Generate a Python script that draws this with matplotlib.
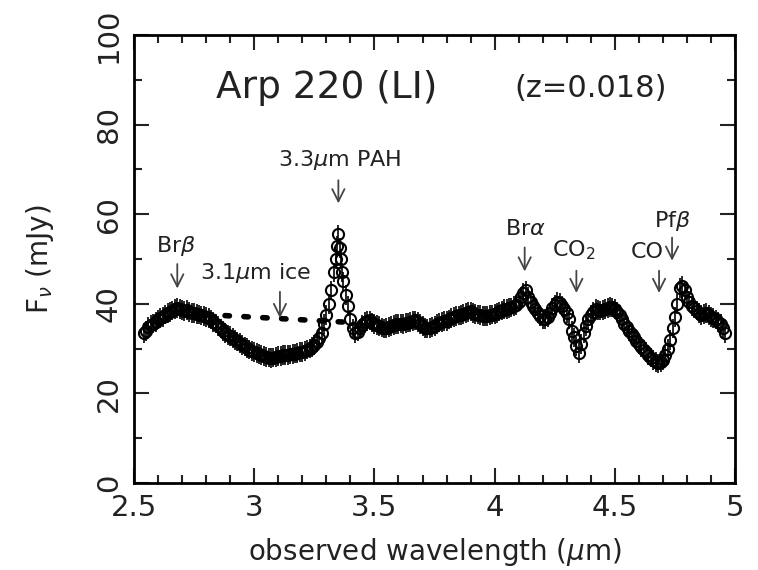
import matplotlib.pyplot as plt

# observed spectrum
wave = [2.54, 2.55, 2.56, 2.57, 2.58, 2.59, 2.60, 2.61, 2.62, 2.63, 2.64, 2.65, 2.66, 2.67,
        2.68, 2.69, 2.70, 2.71, 2.72, 2.73, 2.74, 2.75, 2.76, 2.77, 2.78, 2.79, 2.80, 2.81,
        2.82, 2.83, 2.84, 2.85, 2.86, 2.87, 2.88, 2.89, 2.90, 2.91, 2.92, 2.93, 2.94, 2.95,
        2.96, 2.97, 2.98, 2.99, 3.00, 3.01, 3.02, 3.03, 3.04, 3.05, 3.06, 3.07, 3.08, 3.09,
        3.10, 3.11, 3.12, 3.13, 3.14, 3.15, 3.16, 3.17, 3.18, 3.19, 3.20, 3.21, 3.22, 3.23,
        3.24, 3.25, 3.26, 3.27, 3.28, 3.29, 3.30, 3.31, 3.32, 3.33, 3.34, 3.345, 3.35, 3.355,
        3.36, 3.365, 3.37, 3.38, 3.39, 3.40, 3.41, 3.42, 3.43, 3.44, 3.45, 3.46, 3.47, 3.48,
        3.49, 3.50, 3.51, 3.52, 3.53, 3.54, 3.55, 3.56, 3.57, 3.58, 3.59, 3.60, 3.61, 3.62,
        3.63, 3.64, 3.65, 3.66, 3.67, 3.68, 3.69, 3.70, 3.71, 3.72, 3.73, 3.74, 3.75, 3.76,
        3.77, 3.78, 3.79, 3.80, 3.81, 3.82, 3.83, 3.84, 3.85, 3.86, 3.87, 3.88, 3.89, 3.90,
        3.91, 3.92, 3.93, 3.94, 3.95, 3.96, 3.97, 3.98, 3.99, 4.00, 4.01, 4.02, 4.03, 4.04,
        4.05, 4.06, 4.07, 4.08, 4.09, 4.10, 4.11, 4.12, 4.13, 4.14, 4.15, 4.16, 4.17, 4.18,
        4.19, 4.20, 4.21, 4.22, 4.23, 4.24, 4.25, 4.26, 4.27, 4.28, 4.29, 4.30, 4.31, 4.32,
        4.33, 4.34, 4.35, 4.36, 4.37, 4.38, 4.39, 4.40, 4.41, 4.42, 4.43, 4.44, 4.45, 4.46,
        4.47, 4.48, 4.49, 4.50, 4.51, 4.52, 4.53, 4.54, 4.55, 4.56, 4.57, 4.58, 4.59, 4.60,
        4.61, 4.62, 4.63, 4.64, 4.65, 4.66, 4.67, 4.68, 4.69, 4.70, 4.71, 4.72, 4.73, 4.74,
        4.75, 4.76, 4.77, 4.78, 4.79, 4.80, 4.81, 4.82, 4.83, 4.84, 4.85, 4.86, 4.87, 4.88,
        4.89, 4.90, 4.91, 4.92, 4.93, 4.94, 4.95, 4.96]
flux = [33.5, 34.0, 34.8, 35.2, 35.6, 36.0, 36.5, 36.8, 37.0, 37.6, 38.0, 38.2, 38.5, 38.9,
        39.1, 38.8, 38.6, 38.4, 38.6, 38.2, 38.0, 37.9, 37.8, 37.6, 37.4, 37.2, 37.0, 36.8,
        36.5, 36.0, 35.6, 35.0, 34.5, 34.0, 33.5, 33.1, 32.8, 32.3, 32.0, 31.6, 31.2, 30.8,
        30.5, 30.1, 29.8, 29.5, 29.2, 29.0, 28.8, 28.5, 28.3, 28.1, 28.0, 27.9, 28.0, 28.2,
        28.3, 28.4, 28.5, 28.5, 28.6, 28.7, 28.8, 28.9, 29.0, 29.2, 29.3, 29.5, 29.8, 30.0,
        30.3, 30.8, 31.5, 32.4, 33.5, 35.5, 37.5, 40.0, 43.0, 47.0, 50.0, 53.0, 55.5, 52.5,
        50.0, 47.0, 45.0, 42.0, 39.5, 36.5, 34.5, 33.5, 33.8, 34.5, 35.3, 36.0, 36.2, 36.3,
        35.8, 35.5, 35.2, 35.0, 34.7, 34.5, 34.6, 34.8, 35.0, 35.3, 35.5, 35.5, 35.6, 35.5,
        35.7, 35.8, 36.0, 36.2, 36.3, 36.0, 35.5, 35.0, 34.6, 34.5, 34.6, 34.8, 35.1, 35.5,
        35.8, 36.0, 36.1, 36.2, 36.5, 36.8, 37.0, 37.2, 37.4, 37.5, 37.8, 38.0, 38.2, 38.3,
        38.0, 37.8, 37.6, 37.5, 37.3, 37.2, 37.3, 37.5, 37.6, 37.8, 38.0, 38.3, 38.5, 38.8,
        38.9, 39.0, 39.2, 39.5, 39.8, 40.5, 41.5, 42.5, 43.0, 41.5, 40.5, 39.5, 38.8, 38.0,
        37.2, 36.5, 36.6, 37.0, 38.0, 39.0, 39.8, 40.5, 40.2, 39.5, 38.8, 38.0, 36.5, 34.0,
        32.5, 30.5, 29.0, 31.0, 33.5, 35.0, 36.5, 37.5, 38.2, 38.8, 38.6, 38.5, 38.6, 38.8,
        39.0, 39.3, 39.2, 38.8, 38.2, 37.5, 36.5, 35.5, 34.8, 34.0, 33.2, 32.5, 31.8, 31.0,
        30.4, 29.8, 29.2, 28.5, 28.0, 27.5, 27.0, 26.7, 27.0, 27.5, 28.5, 30.0, 32.0, 34.5,
        37.0, 40.0, 43.5, 44.0, 43.0, 41.5, 40.5, 39.5, 39.0, 38.5, 38.0, 37.5, 37.8, 38.0,
        37.5, 37.0, 36.8, 36.5, 36.0, 35.5, 34.5, 33.5]
flux_err = 2.2

# continuum under the 3.1 um ice feature
cont_wave = [2.80, 3.38]
cont_flux = [37.6, 35.9]

# feature labels: text, text x, text y, arrow x, arrow top, arrow tip
features = [
    ("Br$\\beta$", 2.675, 52.8, 2.68, 49.5, 42.8),
    ("3.1$\\mu$m ice", 3.005, 46.8, 3.107, 43.3, 36.2),
    ("3.3$\\mu$m PAH", 3.355, 72.0, 3.35, 68.2, 61.8),
    ("Br$\\alpha$", 4.127, 56.6, 4.125, 53.2, 46.6),
    ("CO$_2$", 4.33, 52.0, 4.34, 48.0, 41.8),
    ("CO", 4.634, 51.6, 4.684, 48.0, 41.8),
    ("Pf$\\beta$", 4.74, 58.5, 4.738, 55.4, 49.0),
]

fig = plt.figure(figsize=(7.58, 5.70), dpi=100)
ax = fig.add_axes([0.1768, 0.1526, 0.7929, 0.786])

ax.errorbar(wave, flux, yerr=flux_err, fmt='o', ms=8, mfc='none', mec='black',
            mew=1.5, ecolor='black', elinewidth=1.2, capsize=0, color='black', zorder=3)
ax.plot(cont_wave, cont_flux, color='black', lw=4, linestyle=(0, (0.8, 2.6)),
        dash_capstyle='round', zorder=2)

for label, tx, ty, axx, a_top, a_tip in features:
    ax.text(tx, ty, label, ha='center', va='center', fontsize=16, color='#222222')
    ax.annotate('', xy=(axx, a_tip), xytext=(axx, a_top),
                arrowprops=dict(arrowstyle='->', lw=1.3, color='#444444',
                                mutation_scale=22))

ax.text(3.30, 88.2, "Arp 220 (LI)", ha='center', va='center', fontsize=27, color='#222222')
ax.text(4.40, 88.0, "(z=0.018)", ha='center', va='center', fontsize=22, color='#222222')

ax.set_xlim(2.5, 5.0)
ax.set_ylim(0, 100)
ax.set_xticks([2.5, 3, 3.5, 4, 4.5, 5])
ax.set_xticklabels(['2.5', '3', '3.5', '4', '4.5', '5'])
ax.set_xticks([x / 10 for x in range(25, 51)], minor=True)
ax.set_yticks([0, 20, 40, 60, 80, 100])
ax.set_yticks(list(range(0, 101, 10)), minor=True)
ax.tick_params(which='both', direction='in', top=True, right=True, width=1.5,
               labelsize=21, colors='#222222')
ax.tick_params(which='major', length=11, pad=8)
ax.tick_params(which='minor', length=6)
for lab in ax.get_yticklabels():
    lab.set_rotation(90)
    lab.set_va('center')
for sp in ax.spines.values():
    sp.set_linewidth(2.0)

ax.set_xlabel("observed wavelength ($\\mu$m)", fontsize=20, color='#222222', labelpad=10)
ax.set_ylabel("F$_\\nu$ (mJy)", fontsize=20, color='#222222', labelpad=28)

plt.savefig("out.png", dpi=100)
